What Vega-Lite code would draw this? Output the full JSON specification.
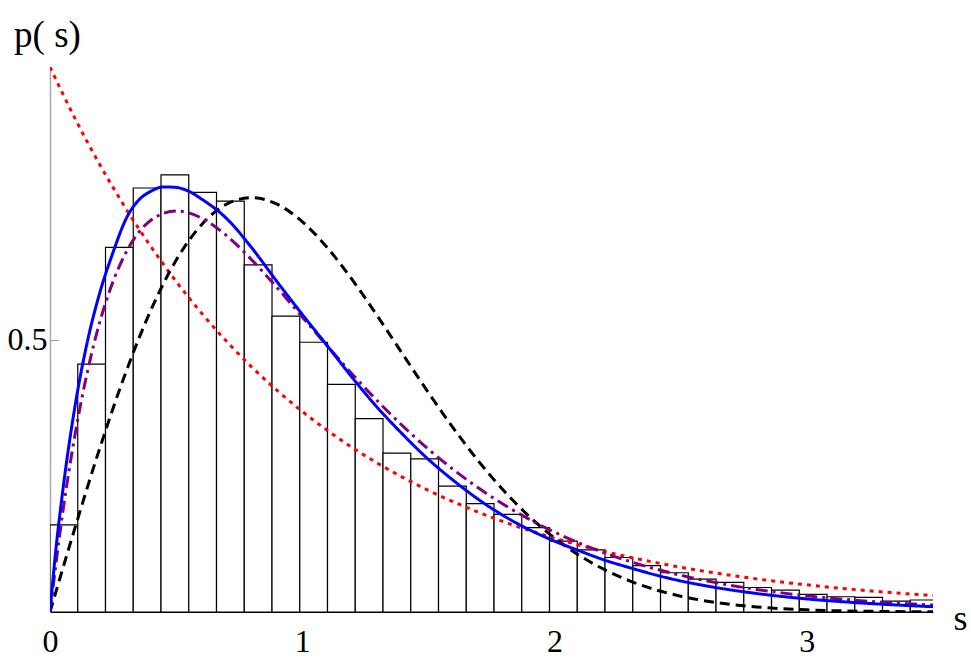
{
  "$schema": "https://vega.github.io/schema/vega-lite/v6.json",
  "width": 883,
  "height": 545,
  "autosize": {"type": "none"},
  "padding": {"left": 50, "top": 67, "right": 38, "bottom": 53},
  "background": "white",
  "config": {"view": {"stroke": null}, "font": "Liberation Serif"},
  "datasets": {
    "bars": [
      {"s0": 0, "s1": 0.11, "p": 0.16},
      {"s0": 0.11, "s1": 0.22, "p": 0.455},
      {"s0": 0.22, "s1": 0.33, "p": 0.669},
      {"s0": 0.33, "s1": 0.44, "p": 0.778},
      {"s0": 0.44, "s1": 0.55, "p": 0.802},
      {"s0": 0.55, "s1": 0.66, "p": 0.77},
      {"s0": 0.66, "s1": 0.77, "p": 0.754},
      {"s0": 0.77, "s1": 0.88, "p": 0.637},
      {"s0": 0.88, "s1": 0.99, "p": 0.543},
      {"s0": 0.99, "s1": 1.1, "p": 0.495},
      {"s0": 1.1, "s1": 1.21, "p": 0.4175},
      {"s0": 1.21, "s1": 1.32, "p": 0.355},
      {"s0": 1.32, "s1": 1.43, "p": 0.2915},
      {"s0": 1.43, "s1": 1.54, "p": 0.281},
      {"s0": 1.54, "s1": 1.65, "p": 0.231},
      {"s0": 1.65, "s1": 1.76, "p": 0.199},
      {"s0": 1.76, "s1": 1.87, "p": 0.179},
      {"s0": 1.87, "s1": 1.98, "p": 0.155},
      {"s0": 1.98, "s1": 2.09, "p": 0.13},
      {"s0": 2.09, "s1": 2.2, "p": 0.114},
      {"s0": 2.2, "s1": 2.31, "p": 0.1},
      {"s0": 2.31, "s1": 2.42, "p": 0.085},
      {"s0": 2.42, "s1": 2.53, "p": 0.072},
      {"s0": 2.53, "s1": 2.64, "p": 0.0605},
      {"s0": 2.64, "s1": 2.75, "p": 0.0545},
      {"s0": 2.75, "s1": 2.86, "p": 0.045},
      {"s0": 2.86, "s1": 2.97, "p": 0.04},
      {"s0": 2.97, "s1": 3.08, "p": 0.0324},
      {"s0": 3.08, "s1": 3.19, "p": 0.028},
      {"s0": 3.19, "s1": 3.3, "p": 0.027},
      {"s0": 3.3, "s1": 3.41, "p": 0.02},
      {"s0": 3.41, "s1": 3.52, "p": 0.022}
    ],
    "curves": [
      {"curve": "Poisson", "s": 0, "p": 1},
      {"curve": "Poisson", "s": 0.1, "p": 0.9048},
      {"curve": "Poisson", "s": 0.2, "p": 0.8187},
      {"curve": "Poisson", "s": 0.3, "p": 0.7408},
      {"curve": "Poisson", "s": 0.4, "p": 0.6703},
      {"curve": "Poisson", "s": 0.5, "p": 0.6065},
      {"curve": "Poisson", "s": 0.6, "p": 0.5488},
      {"curve": "Poisson", "s": 0.7, "p": 0.4966},
      {"curve": "Poisson", "s": 0.8, "p": 0.4493},
      {"curve": "Poisson", "s": 0.9, "p": 0.4066},
      {"curve": "Poisson", "s": 1.0, "p": 0.3679},
      {"curve": "Poisson", "s": 1.1, "p": 0.3329},
      {"curve": "Poisson", "s": 1.2, "p": 0.3012},
      {"curve": "Poisson", "s": 1.3, "p": 0.2725},
      {"curve": "Poisson", "s": 1.4, "p": 0.2466},
      {"curve": "Poisson", "s": 1.5, "p": 0.2231},
      {"curve": "Poisson", "s": 1.6, "p": 0.2019},
      {"curve": "Poisson", "s": 1.7, "p": 0.1827},
      {"curve": "Poisson", "s": 1.8, "p": 0.1653},
      {"curve": "Poisson", "s": 1.9, "p": 0.1496},
      {"curve": "Poisson", "s": 2.0, "p": 0.1353},
      {"curve": "Poisson", "s": 2.1, "p": 0.1225},
      {"curve": "Poisson", "s": 2.2, "p": 0.1108},
      {"curve": "Poisson", "s": 2.3, "p": 0.1003},
      {"curve": "Poisson", "s": 2.4, "p": 0.0907},
      {"curve": "Poisson", "s": 2.5, "p": 0.0821},
      {"curve": "Poisson", "s": 2.6, "p": 0.0743},
      {"curve": "Poisson", "s": 2.7, "p": 0.0672},
      {"curve": "Poisson", "s": 2.8, "p": 0.0608},
      {"curve": "Poisson", "s": 2.9, "p": 0.055},
      {"curve": "Poisson", "s": 3.0, "p": 0.0498},
      {"curve": "Poisson", "s": 3.1, "p": 0.045},
      {"curve": "Poisson", "s": 3.2, "p": 0.0408},
      {"curve": "Poisson", "s": 3.3, "p": 0.0369},
      {"curve": "Poisson", "s": 3.4, "p": 0.0334},
      {"curve": "Poisson", "s": 3.5, "p": 0.0302},
      {"curve": "Wigner", "s": 0, "p": 0},
      {"curve": "Wigner", "s": 0.1, "p": 0.1559},
      {"curve": "Wigner", "s": 0.2, "p": 0.3044},
      {"curve": "Wigner", "s": 0.3, "p": 0.4391},
      {"curve": "Wigner", "s": 0.4, "p": 0.5541},
      {"curve": "Wigner", "s": 0.5, "p": 0.6454},
      {"curve": "Wigner", "s": 0.6, "p": 0.7103},
      {"curve": "Wigner", "s": 0.7, "p": 0.7483},
      {"curve": "Wigner", "s": 0.8, "p": 0.7602},
      {"curve": "Wigner", "s": 0.9, "p": 0.7483},
      {"curve": "Wigner", "s": 1.0, "p": 0.7162},
      {"curve": "Wigner", "s": 1.1, "p": 0.668},
      {"curve": "Wigner", "s": 1.2, "p": 0.6083},
      {"curve": "Wigner", "s": 1.3, "p": 0.5415},
      {"curve": "Wigner", "s": 1.4, "p": 0.4717},
      {"curve": "Wigner", "s": 1.5, "p": 0.4025},
      {"curve": "Wigner", "s": 1.6, "p": 0.3366},
      {"curve": "Wigner", "s": 1.7, "p": 0.2759},
      {"curve": "Wigner", "s": 1.8, "p": 0.2219},
      {"curve": "Wigner", "s": 1.9, "p": 0.1752},
      {"curve": "Wigner", "s": 2.0, "p": 0.1358},
      {"curve": "Wigner", "s": 2.1, "p": 0.1033},
      {"curve": "Wigner", "s": 2.2, "p": 0.0772},
      {"curve": "Wigner", "s": 2.3, "p": 0.0567},
      {"curve": "Wigner", "s": 2.4, "p": 0.0409},
      {"curve": "Wigner", "s": 2.5, "p": 0.029},
      {"curve": "Wigner", "s": 2.6, "p": 0.0202},
      {"curve": "Wigner", "s": 2.7, "p": 0.0138},
      {"curve": "Wigner", "s": 2.8, "p": 0.0093},
      {"curve": "Wigner", "s": 2.9, "p": 0.0062},
      {"curve": "Wigner", "s": 3.0, "p": 0.004},
      {"curve": "Wigner", "s": 3.1, "p": 0.0025},
      {"curve": "Wigner", "s": 3.2, "p": 0.0016},
      {"curve": "Wigner", "s": 3.3, "p": 0.001},
      {"curve": "Wigner", "s": 3.4, "p": 0.0006},
      {"curve": "Wigner", "s": 3.5, "p": 0.0003},
      {"curve": "semi-Poisson", "s": 0, "p": 0},
      {"curve": "semi-Poisson", "s": 0.05, "p": 0.181},
      {"curve": "semi-Poisson", "s": 0.1, "p": 0.3275},
      {"curve": "semi-Poisson", "s": 0.15, "p": 0.4445},
      {"curve": "semi-Poisson", "s": 0.2, "p": 0.5363},
      {"curve": "semi-Poisson", "s": 0.25, "p": 0.6065},
      {"curve": "semi-Poisson", "s": 0.3, "p": 0.6586},
      {"curve": "semi-Poisson", "s": 0.4, "p": 0.7189},
      {"curve": "semi-Poisson", "s": 0.5, "p": 0.7358},
      {"curve": "semi-Poisson", "s": 0.6, "p": 0.7229},
      {"curve": "semi-Poisson", "s": 0.7, "p": 0.6905},
      {"curve": "semi-Poisson", "s": 0.8, "p": 0.646},
      {"curve": "semi-Poisson", "s": 0.9, "p": 0.5951},
      {"curve": "semi-Poisson", "s": 1.0, "p": 0.5413},
      {"curve": "semi-Poisson", "s": 1.1, "p": 0.4876},
      {"curve": "semi-Poisson", "s": 1.2, "p": 0.4355},
      {"curve": "semi-Poisson", "s": 1.3, "p": 0.3862},
      {"curve": "semi-Poisson", "s": 1.4, "p": 0.3405},
      {"curve": "semi-Poisson", "s": 1.5, "p": 0.2987},
      {"curve": "semi-Poisson", "s": 1.6, "p": 0.2609},
      {"curve": "semi-Poisson", "s": 1.7, "p": 0.2269},
      {"curve": "semi-Poisson", "s": 1.8, "p": 0.1967},
      {"curve": "semi-Poisson", "s": 1.9, "p": 0.17},
      {"curve": "semi-Poisson", "s": 2.0, "p": 0.1465},
      {"curve": "semi-Poisson", "s": 2.1, "p": 0.126},
      {"curve": "semi-Poisson", "s": 2.2, "p": 0.1081},
      {"curve": "semi-Poisson", "s": 2.3, "p": 0.0925},
      {"curve": "semi-Poisson", "s": 2.4, "p": 0.079},
      {"curve": "semi-Poisson", "s": 2.5, "p": 0.0674},
      {"curve": "semi-Poisson", "s": 2.6, "p": 0.0574},
      {"curve": "semi-Poisson", "s": 2.7, "p": 0.0488},
      {"curve": "semi-Poisson", "s": 2.8, "p": 0.0414},
      {"curve": "semi-Poisson", "s": 2.9, "p": 0.0351},
      {"curve": "semi-Poisson", "s": 3.0, "p": 0.0297},
      {"curve": "semi-Poisson", "s": 3.1, "p": 0.0252},
      {"curve": "semi-Poisson", "s": 3.2, "p": 0.0213},
      {"curve": "semi-Poisson", "s": 3.3, "p": 0.018},
      {"curve": "semi-Poisson", "s": 3.4, "p": 0.0151},
      {"curve": "semi-Poisson", "s": 3.5, "p": 0.0128},
      {"curve": "fit", "s": 0, "p": 0},
      {"curve": "fit", "s": 0.02, "p": 0.1},
      {"curve": "fit", "s": 0.05, "p": 0.22},
      {"curve": "fit", "s": 0.1, "p": 0.38},
      {"curve": "fit", "s": 0.15, "p": 0.5},
      {"curve": "fit", "s": 0.2, "p": 0.59},
      {"curve": "fit", "s": 0.25, "p": 0.66},
      {"curve": "fit", "s": 0.3, "p": 0.72},
      {"curve": "fit", "s": 0.35, "p": 0.755},
      {"curve": "fit", "s": 0.4, "p": 0.772},
      {"curve": "fit", "s": 0.45, "p": 0.78},
      {"curve": "fit", "s": 0.5, "p": 0.779},
      {"curve": "fit", "s": 0.55, "p": 0.772},
      {"curve": "fit", "s": 0.6, "p": 0.758},
      {"curve": "fit", "s": 0.7, "p": 0.722},
      {"curve": "fit", "s": 0.8, "p": 0.668},
      {"curve": "fit", "s": 0.9, "p": 0.606},
      {"curve": "fit", "s": 1.0, "p": 0.546},
      {"curve": "fit", "s": 1.1, "p": 0.488},
      {"curve": "fit", "s": 1.2, "p": 0.429},
      {"curve": "fit", "s": 1.3, "p": 0.374},
      {"curve": "fit", "s": 1.4, "p": 0.325},
      {"curve": "fit", "s": 1.5, "p": 0.28},
      {"curve": "fit", "s": 1.6, "p": 0.241},
      {"curve": "fit", "s": 1.7, "p": 0.206},
      {"curve": "fit", "s": 1.8, "p": 0.176},
      {"curve": "fit", "s": 1.9, "p": 0.151},
      {"curve": "fit", "s": 2.0, "p": 0.13},
      {"curve": "fit", "s": 2.1, "p": 0.112},
      {"curve": "fit", "s": 2.2, "p": 0.095},
      {"curve": "fit", "s": 2.3, "p": 0.081},
      {"curve": "fit", "s": 2.4, "p": 0.068},
      {"curve": "fit", "s": 2.5, "p": 0.057},
      {"curve": "fit", "s": 2.6, "p": 0.048},
      {"curve": "fit", "s": 2.8, "p": 0.034},
      {"curve": "fit", "s": 3.0, "p": 0.024},
      {"curve": "fit", "s": 3.2, "p": 0.017},
      {"curve": "fit", "s": 3.5, "p": 0.0097}
    ]
  },
  "layer": [
    {
      "data": {"name": "bars"},
      "mark": {"type": "rect", "fill": "white", "stroke": "black", "strokeWidth": 1.2, "clip": true},
      "encoding": {
        "x": {
          "field": "s0", "type": "quantitative",
          "scale": {"domain": [0, 3.5], "nice": false},
          "axis": {
            "values": [0, 1, 2, 3], "format": "d", "grid": false,
            "tickSize": -8, "tickColor": "#999999", "tickWidth": 1,
            "domainColor": "black", "domainWidth": 1.2,
            "labelFlush": false, "labelPadding": 22, "labelFontSize": 32,
            "labelFont": "Liberation Serif", "labelColor": "black",
            "title": "s", "titleX": 910, "titleY": 17, "titleAlign": "center",
            "titleBaseline": "alphabetic", "titleFontSize": 36,
            "titleFontWeight": "normal", "titleFont": "Liberation Serif", "titleColor": "black"
          }
        },
        "x2": {"field": "s1"},
        "y": {
          "field": "p", "type": "quantitative",
          "scale": {"domain": [0, 1], "nice": false},
          "axis": {
            "values": [0.5], "grid": false,
            "tickSize": -8, "tickColor": "#999999", "tickWidth": 1,
            "domainColor": "#aaaaaa", "domainWidth": 1.5,
            "labelPadding": 11, "labelFontSize": 32,
            "labelFont": "Liberation Serif", "labelColor": "black",
            "title": "p( s)", "titleAngle": 0, "titleX": -3, "titleY": -21,
            "titleAlign": "center", "titleBaseline": "alphabetic", "titleFontSize": 37,
            "titleFontWeight": "normal", "titleFont": "Liberation Serif", "titleColor": "black"
          }
        },
        "y2": {"datum": 0}
      }
    },
    {
      "data": {"name": "curves"},
      "mark": {"type": "line", "clip": true, "strokeWidth": 3, "interpolate": "monotone"},
      "encoding": {
        "x": {"field": "s", "type": "quantitative"},
        "y": {"field": "p", "type": "quantitative"},
        "color": {
          "field": "curve", "type": "nominal", "legend": null,
          "scale": {"domain": ["Poisson", "Wigner", "semi-Poisson", "fit"], "range": ["#ff0000", "#000000", "#800080", "#0000ff"]}
        },
        "strokeDash": {
          "field": "curve", "type": "nominal", "legend": null,
          "scale": {"domain": ["Poisson", "Wigner", "semi-Poisson", "fit"], "range": [[4, 5], [10, 6], [12, 5, 3, 5], [1, 0]]}
        }
      }
    }
  ]
}
